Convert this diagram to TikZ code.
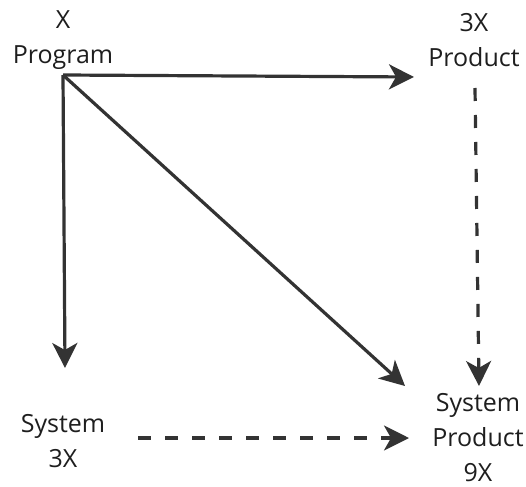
\documentclass[tikz,border=0pt]{standalone}
\usepackage{fontspec}
\setmainfont{Open Sans}
\usetikzlibrary{arrows.meta}
\definecolor{linec}{HTML}{333333}
\definecolor{textc}{HTML}{1E1E1E}
\begin{document}
\begin{tikzpicture}[x=1pt,y=-1pt,
  lbl/.style={align=center,inner sep=0pt,text=textc,font=\fontsize{25}{35}\selectfont},
  conn/.style={draw=linec,line width=3.2pt,-{Stealth[length=25pt,width=25pt,inset=7pt]}},
  dconn/.style={conn,dash pattern=on 13pt off 14pt}]
\useasboundingbox (0,0) rectangle (526,486);
\node[lbl] (prog) at (63,40) {X\\Program};
\node[lbl] (prod) at (474,40) {3X\\Product};
\node[lbl] (sys) at (63,441) {System\\3X};
\node[lbl] (sysprod) at (478,438) {System\\Product\\9X};
\coordinate (corner) at (63,75);
\coordinate (tprod) at (414,77);
\coordinate (tsys) at (65,368);
\coordinate (tsp) at (405,386);
\coordinate (sprod) at (475,88);
\coordinate (tspv) at (479,386);
\coordinate (ssys) at (138,438);
\coordinate (tsph) at (409,438);
\draw[conn] (corner) -- (tprod);
\draw[conn] (corner) -- (tsys);
\draw[conn] (corner) -- (tsp);
\draw[dconn] (sprod) -- (tspv);
\draw[dconn] (ssys) -- (tsph);
\end{tikzpicture}
\end{document}
